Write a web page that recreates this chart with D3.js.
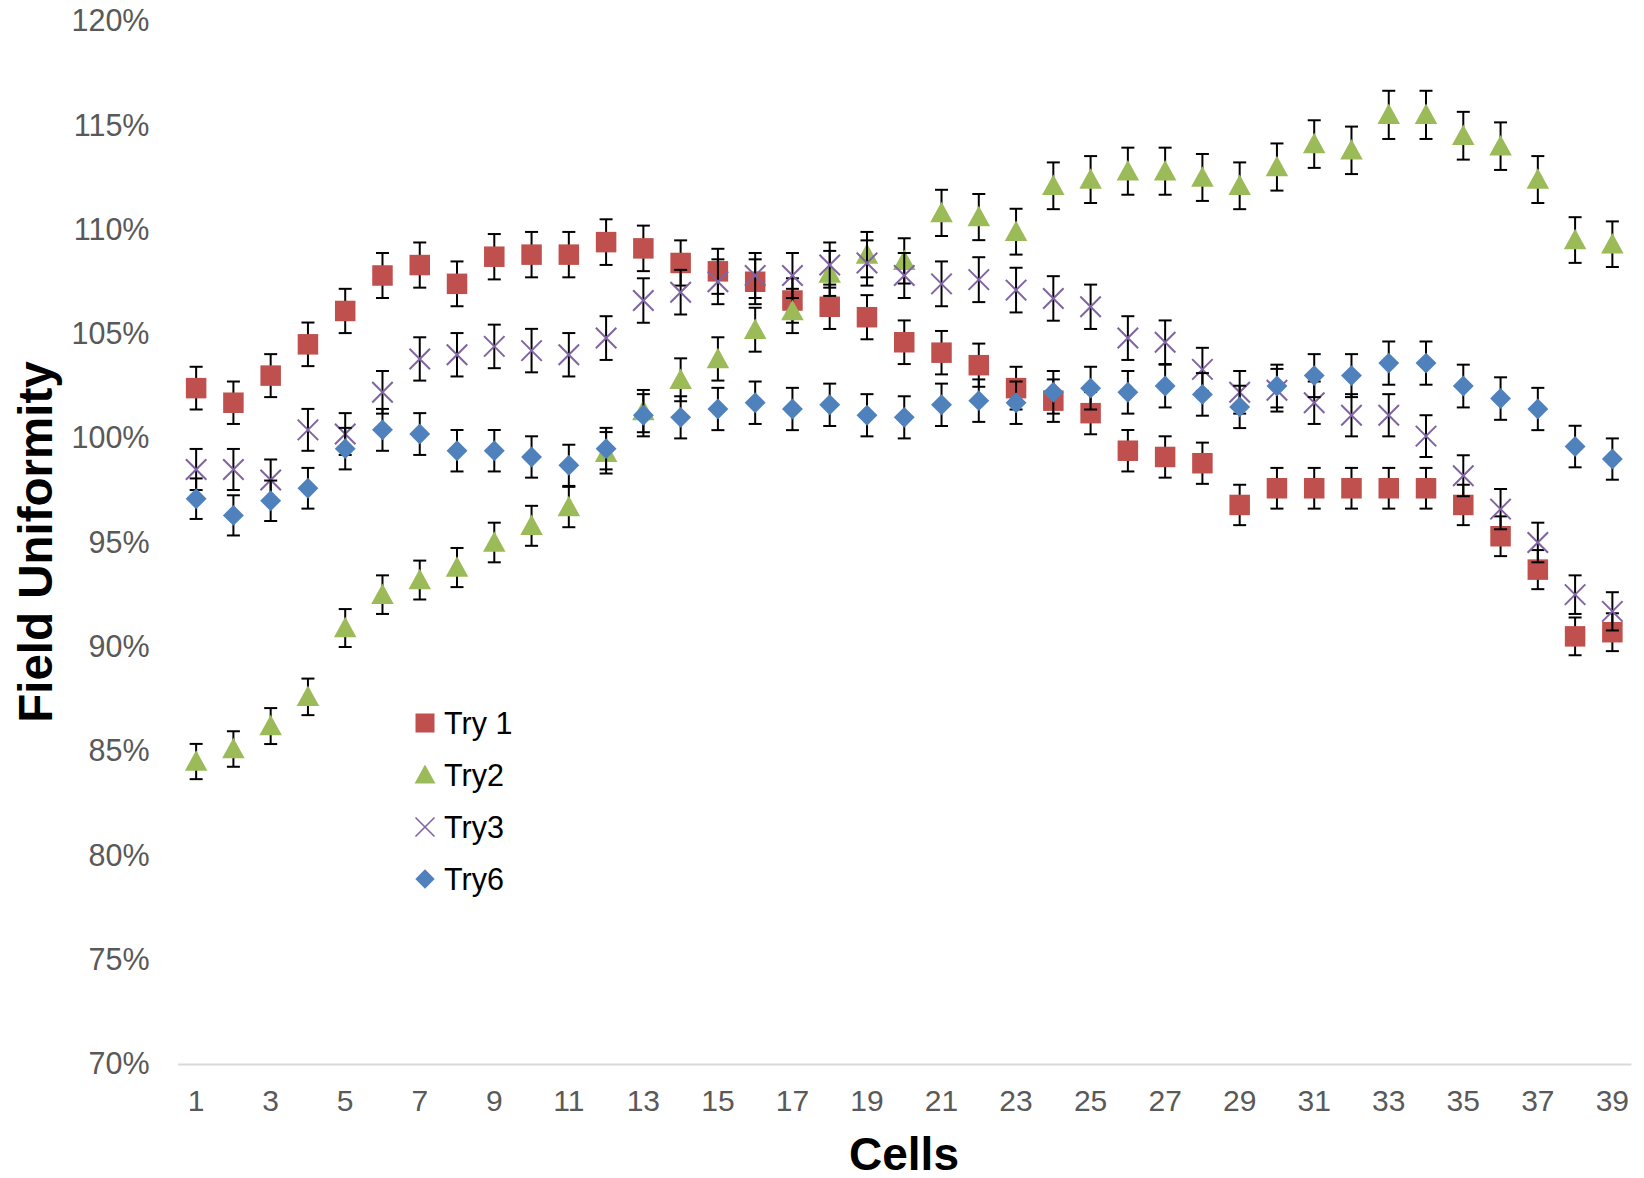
<!DOCTYPE html>
<html>
<head>
<meta charset="utf-8">
<script src="https://cdn.jsdelivr.net/npm/d3@7"></script>
<style>
  body { margin: 0; background: #fff; }
  svg { display: block; font-family: "Liberation Sans", Arial, sans-serif; }
</style>
</head>
<body>
<svg id="chart"></svg>
<script>
const cells = d3.range(1, 40);

const try1 = [102.4, 101.7, 103.0, 104.5, 106.1, 107.8, 108.3, 107.4, 108.7, 108.8,
              108.8, 109.4, 109.1, 108.4, 108.0, 107.5, 106.6, 106.3, 105.8, 104.6,
              104.1, 103.5, 102.4, 101.8, 101.2, 99.4, 99.1, 98.8, 96.8, 97.6,
              97.6, 97.6, 97.6, 97.6, 96.8, 95.3, 93.7, 90.5, 90.7];
const try2 = [84.5, 85.1, 86.2, 87.6, 90.9, 92.5, 93.2, 93.8, 95.0, 95.8,
              96.7, 99.3, 101.3, 102.8, 103.8, 105.2, 106.1, 107.9, 108.8, 108.5,
              110.8, 110.6, 109.9, 112.1, 112.4, 112.8, 112.8, 112.5, 112.1, 113.0,
              114.1, 113.8, 115.5, 115.5, 114.5, 114.0, 112.4, 109.5, 109.3];
const try3 = [98.5, 98.5, 98.0, 100.4, 100.2, 102.2, 103.8, 104.0, 104.4, 104.2,
              104.0, 104.8, 106.6, 107.0, 107.5, 107.8, 107.8, 108.3, 108.4, 107.8,
              107.4, 107.6, 107.1, 106.7, 106.3, 104.8, 104.6, 103.3, 102.2, 102.3,
              101.7, 101.1, 101.1, 100.1, 98.2, 96.6, 95.0, 92.5, 91.7];
const try6 = [97.1, 96.3, 97.0, 97.6, 99.5, 100.4, 100.2, 99.4, 99.4, 99.1,
              98.7, 99.5, 101.1, 101.0, 101.4, 101.7, 101.4, 101.6, 101.1, 101.0,
              101.6, 101.8, 101.7, 102.2, 102.4, 102.2, 102.5, 102.1, 101.5, 102.5,
              103.0, 103.0, 103.6, 103.6, 102.5, 101.9, 101.4, 99.6, 99.0];

const seriesNames = ["Try 1", "Try2", "Try3", "Try6"];
const yTicks = [70, 75, 80, 85, 90, 95, 100, 105, 110, 115, 120];
const xTickLabels = cells.filter(c => c % 2 === 1);
const errorPercent = 1; // percentage error bars

const width = 1644, height = 1178;
const plot = { left: 177.5, right: 1631, top: 21, bottom: 1064 };

const series = [
  { name: seriesNames[0], values: try1, color: "#C0504D", shape: "square" },
  { name: seriesNames[1], values: try2, color: "#9BBB59", shape: "triangle" },
  { name: seriesNames[2], values: try3, color: "#8064A2", shape: "x" },
  { name: seriesNames[3], values: try6, color: "#4F81BD", shape: "diamond" }
];

const svg = d3.select("#chart").attr("width", width).attr("height", height);

const x = d3.scaleBand().domain(cells).range([plot.left, plot.right]).padding(0);
const cx = c => x(c) + x.bandwidth() / 2;
const y = d3.scaleLinear().domain([70, 120]).range([plot.bottom, plot.top]);

// x axis
const xAxis = svg.append("g")
  .attr("transform", `translate(0,${plot.bottom})`)
  .call(d3.axisBottom(x).tickValues(xTickLabels).tickSize(0).tickPadding(26));
xAxis.select(".domain").attr("stroke", "#d9d9d9").attr("stroke-width", 2);
xAxis.selectAll("text").attr("font-size", 30).attr("fill", "#595959")
  .attr("font-family", "Liberation Sans, Arial, sans-serif");

// y axis
const yAxis = svg.append("g")
  .attr("transform", `translate(${plot.left},0)`)
  .call(d3.axisLeft(y).tickValues(yTicks).tickSize(0).tickPadding(28).tickFormat(d => d + "%"));
yAxis.select(".domain").remove();
yAxis.selectAll("text").attr("font-size", 30.5).attr("fill", "#595959")
  .attr("font-family", "Liberation Sans, Arial, sans-serif");

// titles
svg.append("text")
  .attr("transform", "translate(51.5,542) rotate(-90)")
  .attr("text-anchor", "middle")
  .attr("font-size", 47.5).attr("font-weight", "bold").attr("fill", "#000")
  .text("Field Uniformity");
svg.append("text")
  .attr("x", 904).attr("y", 1170)
  .attr("text-anchor", "middle")
  .attr("font-size", 46).attr("font-weight", "bold").attr("fill", "#000")
  .text("Cells");

function drawMarker(g, shape, color, size, xStroke) {
  const h = size / 2;
  if (shape === "square") {
    g.append("rect").attr("x", -h).attr("y", -h).attr("width", size).attr("height", size)
      .attr("fill", color);
  } else if (shape === "triangle") {
    g.append("path").attr("d", `M0,${-h * 1.1}L${h * 1.1},${h * 0.9}L${-h * 1.1},${h * 0.9}Z`)
      .attr("fill", color);
  } else if (shape === "diamond") {
    const d = h * 1.02;
    g.append("path").attr("d", `M0,${-d}L${d},0L0,${d}L${-d},0Z`).attr("fill", color);
  } else if (shape === "x") {
    g.append("path").attr("d", `M${-h},${-h}L${h},${h}M${-h},${h}L${h},${-h}`)
      .attr("stroke", color).attr("stroke-width", xStroke || 2).attr("fill", "none");
  }
}

const plotG = svg.append("g");
series.forEach(s => {
  const pts = s.values.map((v, i) => ({ cell: cells[i], value: v, err: v * errorPercent / 100 }));
  const sg = plotG.append("g");

  const bars = sg.selectAll(".err").data(pts).join("g").attr("class", "err")
    .attr("stroke", "#000").attr("stroke-width", 2);
  bars.append("line")
    .attr("x1", d => cx(d.cell)).attr("x2", d => cx(d.cell))
    .attr("y1", d => y(d.value + d.err)).attr("y2", d => y(d.value - d.err));
  bars.append("line")
    .attr("x1", d => cx(d.cell) - 6.5).attr("x2", d => cx(d.cell) + 6.5)
    .attr("y1", d => y(d.value + d.err)).attr("y2", d => y(d.value + d.err));
  bars.append("line")
    .attr("x1", d => cx(d.cell) - 6.5).attr("x2", d => cx(d.cell) + 6.5)
    .attr("y1", d => y(d.value - d.err)).attr("y2", d => y(d.value - d.err));

  sg.selectAll(".pt").data(pts).join("g").attr("class", "pt")
    .attr("transform", d => `translate(${cx(d.cell)},${y(d.value)})`)
    .each(function () { drawMarker(d3.select(this), s.shape, s.color, 20.5); });
});

// legend
const legend = svg.append("g").attr("transform", "translate(425,723)");
series.forEach((s, i) => {
  const row = legend.append("g").attr("transform", `translate(0,${i * 52})`);
  drawMarker(row, s.shape, s.color, 19, 1.6);
  row.append("text").attr("x", 19).attr("y", 11)
    .attr("font-size", 30.5).attr("fill", "#000").text(s.name);
});
</script>
</body>
</html>
